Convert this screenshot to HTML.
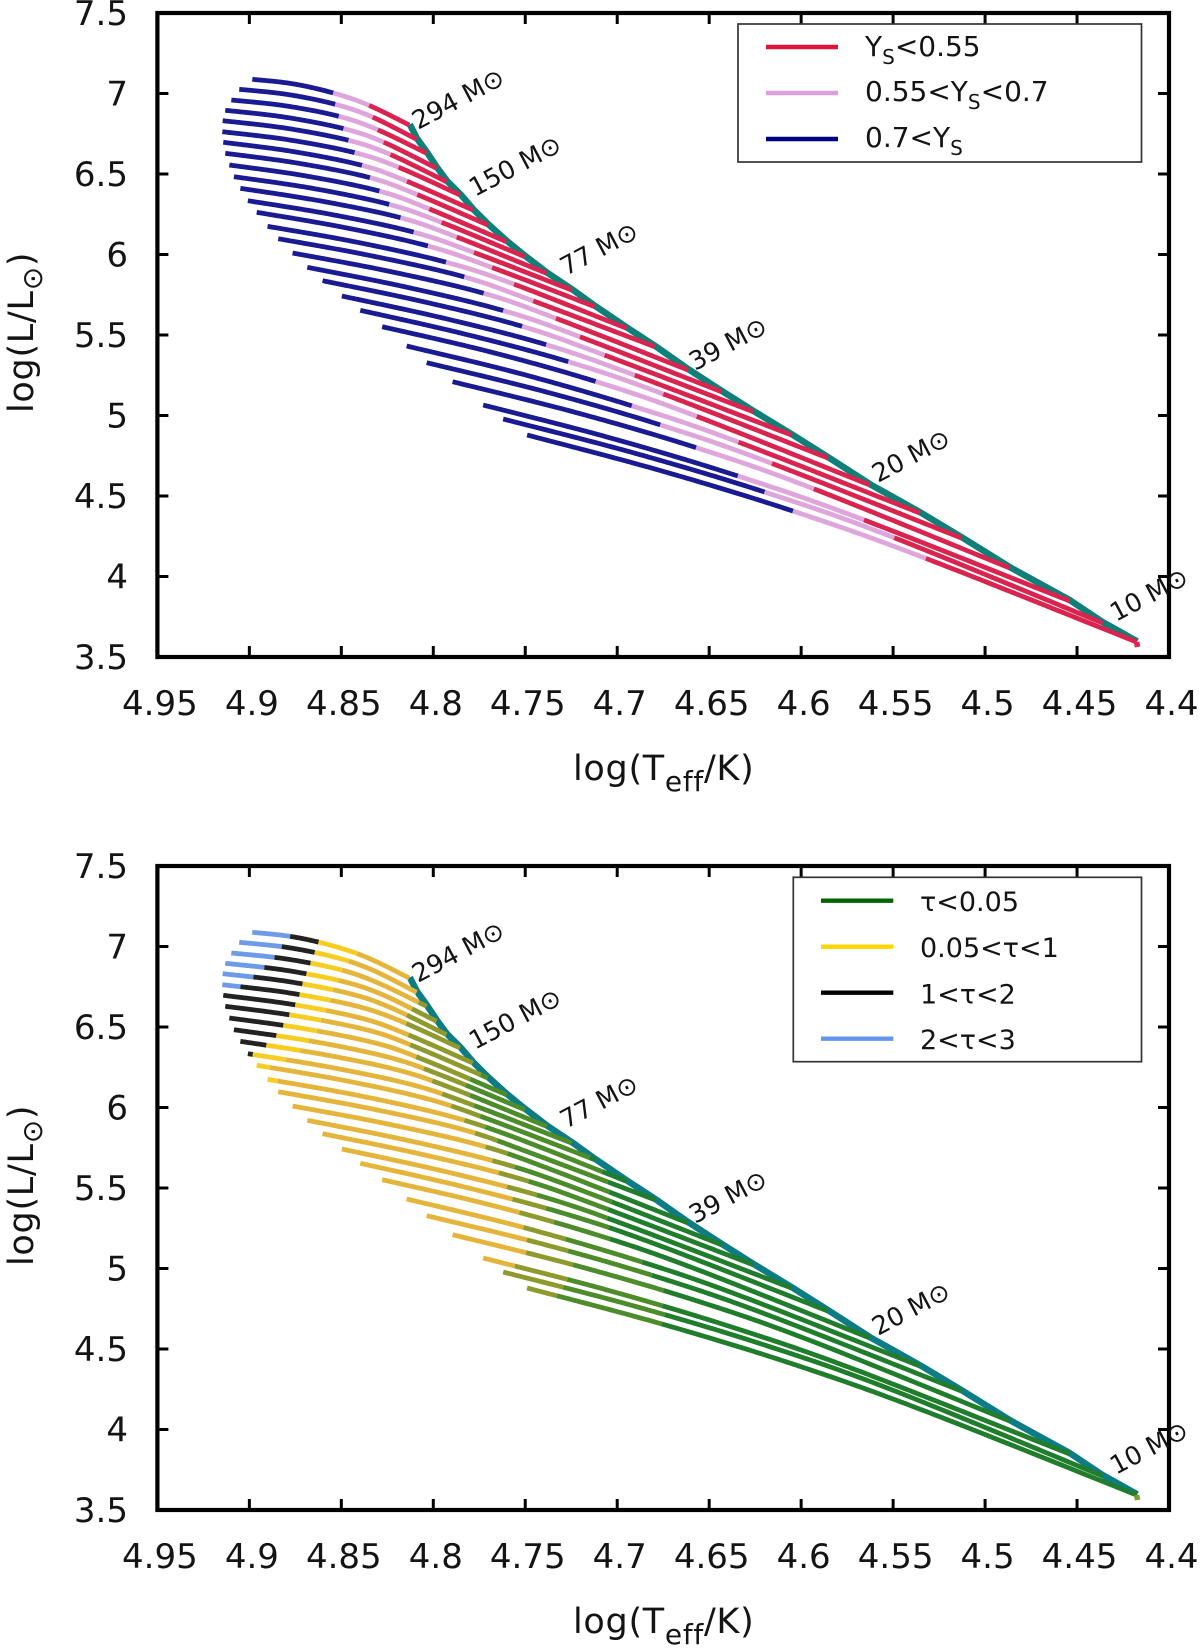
<!DOCTYPE html>
<html lang="en">
<head>
<meta charset="utf-8">
<title>HR diagram with surface helium and optical depth</title>
<style>
html,body{margin:0;padding:0;background:#fff;}
svg{display:block;}
text{font-family:"DejaVu Sans","Liberation Sans",sans-serif;fill:#141414;}
.tick{font-size:34px;}
.title{font-size:35px;letter-spacing:0.7px;}
.leg{font-size:28px;}
.leg2{font-size:27px;}
.ann{font-size:25.5px;}
</style>
</head>
<body>
<svg id="chart" xmlns="http://www.w3.org/2000/svg" width="1200" height="1649" viewBox="0 0 1200 1649">
  <rect width="1200" height="1649" fill="#fff"/>

  <g id="panel-top">
    <g class="marks"></g>
    <g class="axes"></g>
    <text class="title" x="573" y="780">log(T<tspan font-size="28" dy="11">eff</tspan><tspan dy="-11">/K)</tspan></text>
    <text class="title" transform="translate(33,413) rotate(-90)">log(L/L<tspan font-size="28" dy="9">⊙</tspan><tspan dy="-9">)</tspan></text>
    <g>
      <text class="ann" transform="translate(418,130) rotate(-28)">294 M⊙</text>
      <text class="ann" transform="translate(475,197) rotate(-28)">150 M⊙</text>
      <text class="ann" transform="translate(566,276) rotate(-28)">77 M⊙</text>
      <text class="ann" transform="translate(695,371) rotate(-28)">39 M⊙</text>
      <text class="ann" transform="translate(878,483) rotate(-28)">20 M⊙</text>
      <text class="ann" transform="translate(1116,622) rotate(-28)">10 M⊙</text>
    </g>
    <g>
      <rect x="738" y="24" width="403.5" height="138" fill="#fff" stroke="#333" stroke-width="1.7"/>
      <line x1="766" x2="838" y1="47" y2="47" stroke="#dc143c" stroke-width="4.4"/>
      <line x1="766" x2="838" y1="93" y2="93" stroke="#dda0dd" stroke-width="4.4"/>
      <line x1="766" x2="838" y1="139" y2="139" stroke="#000080" stroke-width="4.4"/>
      <text class="leg" x="865" y="56">Y<tspan font-size="20" dy="8">S</tspan><tspan dy="-8">&lt;0.55</tspan></text>
      <text class="leg" x="865" y="101">0.55&lt;Y<tspan font-size="20" dy="8">S</tspan><tspan dy="-8">&lt;0.7</tspan></text>
      <text class="leg" x="865" y="147">0.7&lt;Y<tspan font-size="20" dy="8">S</tspan></text>
    </g>
  </g>

  <g id="panel-bottom" transform="translate(0,853)">
    <g class="marks"></g>
    <g class="axes"></g>
    <text class="title" x="573" y="780">log(T<tspan font-size="28" dy="11">eff</tspan><tspan dy="-11">/K)</tspan></text>
    <text class="title" transform="translate(33,413) rotate(-90)">log(L/L<tspan font-size="28" dy="9">⊙</tspan><tspan dy="-9">)</tspan></text>
    <g>
      <text class="ann" transform="translate(418,130) rotate(-28)">294 M⊙</text>
      <text class="ann" transform="translate(475,197) rotate(-28)">150 M⊙</text>
      <text class="ann" transform="translate(566,276) rotate(-28)">77 M⊙</text>
      <text class="ann" transform="translate(695,371) rotate(-28)">39 M⊙</text>
      <text class="ann" transform="translate(878,483) rotate(-28)">20 M⊙</text>
      <text class="ann" transform="translate(1116,622) rotate(-28)">10 M⊙</text>
    </g>
    <g>
      <rect x="793.3" y="24.3" width="348.2" height="184.4" fill="#fff" stroke="#333" stroke-width="1.7"/>
      <line x1="821" x2="893.3" y1="47.7" y2="47.7" stroke="#006400" stroke-width="4.4"/>
      <line x1="821" x2="893.3" y1="93.7" y2="93.7" stroke="#ffd700" stroke-width="4.4"/>
      <line x1="821" x2="893.3" y1="139.7" y2="139.7" stroke="#000" stroke-width="4.4"/>
      <line x1="821" x2="893.3" y1="185.7" y2="185.7" stroke="#6495ed" stroke-width="4.4"/>
      <text class="leg2" x="920" y="58">τ&lt;0.05</text>
      <text class="leg2" x="920" y="104">0.05&lt;τ&lt;1</text>
      <text class="leg2" x="920" y="150.5">1&lt;τ&lt;2</text>
      <text class="leg2" x="920" y="196">2&lt;τ&lt;3</text>
    </g>
  </g>
</svg>

<script>
// Axis tick values
const xTickValues = [4.95, 4.9, 4.85, 4.8, 4.75, 4.7, 4.65, 4.6, 4.55, 4.5, 4.45, 4.4];
const yTickValues = [3.5, 4, 4.5, 5, 5.5, 6, 6.5, 7, 7.5];

// Evolutionary tracks: [logT, logL], from the hot end to the ZAMS
const trackPoints = [
[[4.8984,7.0882],[4.8767,7.0609],[4.8549,7.0050],[4.8354,6.9286],[4.8131,6.8044]],
[[4.9055,7.0261],[4.8797,6.9948],[4.8539,6.9348],[4.8335,6.8559],[4.8091,6.7155]],
[[4.9098,6.9596],[4.8809,6.9243],[4.8520,6.8603],[4.8308,6.7776],[4.8036,6.6286]],
[[4.9131,6.8957],[4.8813,6.8541],[4.8495,6.7839],[4.8276,6.7006],[4.7982,6.5354]],
[[4.9145,6.8311],[4.8807,6.7855],[4.8468,6.7112],[4.8240,6.6242],[4.7928,6.4522]],
[[4.9147,6.7627],[4.8791,6.7131],[4.8435,6.6348],[4.8196,6.5453],[4.7855,6.3696]],
[[4.9142,6.6969],[4.8769,6.6407],[4.8395,6.5559],[4.8151,6.4584],[4.7785,6.2764]],
[[4.9131,6.6286],[4.8742,6.5684],[4.8352,6.4795],[4.8095,6.3758],[4.7703,6.1832]],
[[4.9109,6.5559],[4.8705,6.4904],[4.8301,6.3963],[4.8031,6.2870],[4.7602,6.0795]],
[[4.9084,6.4832],[4.8666,6.4128],[4.8248,6.3137],[4.7964,6.2037],[4.7502,5.9863]],
[[4.9049,6.4112],[4.8618,6.3336],[4.8187,6.2311],[4.7883,6.1130],[4.7384,5.8832]],
[[4.9008,6.3342],[4.8562,6.2503],[4.8116,6.1416],[4.7790,6.0174],[4.7248,5.7795]],
[[4.8960,6.2621],[4.8500,6.1714],[4.8039,6.0559],[4.7692,5.9242],[4.7122,5.6758]],
[[4.8901,6.1752],[4.8421,6.0777],[4.7941,5.9553],[4.7574,5.8211],[4.6949,5.5416]],
[[4.8843,6.0981],[4.8343,5.9935],[4.7842,5.8640],[4.7470,5.7174],[4.6796,5.4273]],
[[4.8765,6.0093],[4.8251,5.8984],[4.7737,5.7627],[4.7348,5.6099],[4.6615,5.2826]],
[[4.8685,5.9205],[4.8158,5.8003],[4.7631,5.6553],[4.7218,5.4957],[4.6433,5.1478]],
[[4.8602,5.8373],[4.8066,5.7100],[4.7529,5.5578],[4.7085,5.3820],[4.6261,5.0236]],
[[4.8497,5.7422],[4.7948,5.6056],[4.7399,5.4441],[4.6922,5.2578],[4.6053,4.8789]],
[[4.8397,5.6534],[4.7838,5.5084],[4.7279,5.3385],[4.6768,5.1416],[4.5855,4.7360]],
[[4.8278,5.5516],[4.7705,5.3994],[4.7131,5.2162],[4.6587,5.0031],[4.5627,4.5683]],
[[4.8145,5.4317],[4.7540,5.2640],[4.6935,5.0652],[4.6361,4.8435],[4.5355,4.3944]],
[[4.8036,5.3280],[4.7409,5.1531],[4.6781,4.9472],[4.6180,4.7112],[4.5129,4.2391]],
[[4.7895,5.2099],[4.7241,5.0236],[4.6587,4.8062],[4.5953,4.5540],[4.4866,4.0528]],
[[4.7729,5.0652],[4.7045,4.8633],[4.6361,4.6304],[4.5682,4.3615],[4.4540,3.8478]],
[[4.7620,4.9783],[4.6918,4.7702],[4.6216,4.5311],[4.5518,4.2516],[4.4361,3.7112]],
[[4.7490,4.8789],[4.6776,4.6615],[4.6062,4.4130],[4.5346,4.1230],[4.4176,3.5932]]
];

// Surface helium regime changes along each track (logT)
const ysBluePink = [4.8549,4.8539,4.8520,4.8495,4.8468,4.8435,4.8395,4.8352,4.8301,4.8248,4.8187,4.8116,4.8039,4.7941,4.7842,4.7737,4.7631,4.7529,4.7399,4.7279,4.7131,4.6935,4.6781,4.6587,4.6361,4.6216,4.6062];
const ysPinkRed = [4.8354,4.8335,4.8308,4.8276,4.8240,4.8196,4.8151,4.8095,4.8031,4.7964,4.7883,4.7790,4.7692,4.7574,4.7470,4.7348,4.7218,4.7085,4.6922,4.6768,4.6587,4.6361,4.6180,4.5953,4.5682,4.5518,4.5346];

// Optical depth regime changes along each track (logT); 5 and 4 mean "not reached"
const tauBlueBlack = [4.8783,4.8828,4.8870,4.8921,4.8979,4.9051,5,5,5,5,5,5,5,5,5,5,5,5,5,5,5,5,5,5,5,5,5];
const tauBlackGold = [4.8626,4.8647,4.8674,4.8694,4.8714,4.8734,4.8756,4.8783,4.8817,4.8861,4.8915,4.8988,5,5,5,5,5,5,5,5,5,5,5,5,5,5,5];
const tauGoldDull = [4.8417,4.8464,4.8497,4.8519,4.8546,4.8562,4.8584,4.8616,4.8643,4.8681,4.8725,4.8807,4.8888,4.8850,5,5,5,5,5,5,5,5,5,5,5,5,5];
const tauDullOlive = [4.8131,4.8091,4.8084,4.8123,4.8143,4.8154,4.8143,4.8127,4.8095,4.8055,4.8009,4.7955,4.7904,4.7838,4.7774,4.7720,4.7683,4.7647,4.7602,4.7570,4.7539,4.7511,4.7502,4.7502,4.7574,4.8000,4.8000];
const tauOliveGreen = [4,4,4,4,4,4,4,4.7747,4.7801,4.7828,4.7812,4.7785,4.7752,4.7720,4.7656,4.7602,4.7557,4.7493,4.7439,4.7393,4.7348,4.7294,4.7274,4.7252,4.7275,4.7294,4.7339];
const tauGreenDark = [4,4,4,4,4,4,4,4,4,4,4,4,4.7149,4.7095,4.7051,4.7051,4.7051,4.7056,4.7067,4.7056,4.7040,4.6877,4.6823,4.6752,4.6759,4.6759,4.6759];

// Small tip at the cool end of the lowest track
const tipT = [4.4176, 4.4171];
const tipL = [3.5932, 3.5621];

const SVGNS = 'http://www.w3.org/2000/svg';
const plot = {left: 157.4, right: 1169, top: 13, bottom: 657};
const xDomain = [4.95, 4.4];
const yDomain = [3.5, 7.5];
function xScale(t) { return plot.left + (t - xDomain[0]) / (xDomain[1] - xDomain[0]) * (plot.right - plot.left); }
function yScale(l) { return plot.bottom - (l - yDomain[0]) / (yDomain[1] - yDomain[0]) * (plot.bottom - plot.top); }

// Smooth curve through a track's read points, in data coordinates
function sampleTrack(points) {
  const out = [];
  const n = points.length;
  for (let i = 0; i < n - 1; i++) {
    const p0 = points[Math.max(i - 1, 0)], p1 = points[i], p2 = points[i + 1], p3 = points[Math.min(i + 2, n - 1)];
    for (let s = 0; s < 40; s++) {
      const u = s / 40, u2 = u * u, u3 = u2 * u;
      const v = [0, 1].map(function (k) {
        return 0.5 * (2 * p1[k] + (p2[k] - p0[k]) * u + (2 * p0[k] - 5 * p1[k] + 4 * p2[k] - p3[k]) * u2 + (3 * p1[k] - p0[k] - 3 * p2[k] + p3[k]) * u3);
      });
      out.push(v);
    }
  }
  out.push(points[n - 1]);
  return out;
}

function toPath(pts) {
  return pts.map(function (p, i) { return (i ? 'L' : 'M') + xScale(p[0]).toFixed(2) + ' ' + yScale(p[1]).toFixed(2); }).join('');
}

function drawAxes(group) {
  const frame = document.createElementNS(SVGNS, 'rect');
  frame.setAttribute('x', plot.left);
  frame.setAttribute('y', plot.top);
  frame.setAttribute('width', plot.right - plot.left);
  frame.setAttribute('height', plot.bottom - plot.top);
  frame.setAttribute('fill', 'none');
  frame.setAttribute('stroke', '#000');
  frame.setAttribute('stroke-width', '4.2');
  
  
  group.appendChild(frame);

  xTickValues.forEach(function (v, i) {
    const x = xScale(v);
    if (i > 0 && i < xTickValues.length - 1) {
      [[plot.bottom, plot.bottom - 11], [plot.top, plot.top + 11]].forEach(function (pair) {
        const t = document.createElementNS(SVGNS, 'line');
        t.setAttribute('x1', x); t.setAttribute('x2', x);
        t.setAttribute('y1', pair[0]); t.setAttribute('y2', pair[1]);
        t.setAttribute('stroke', '#000'); t.setAttribute('stroke-width', '3');
        
        
        group.appendChild(t);
      });
    }
    const label = document.createElementNS(SVGNS, 'text');
    label.setAttribute('class', 'tick');
    label.setAttribute('x', x + 2.5);
    label.setAttribute('y', plot.bottom + 58);
    label.setAttribute('text-anchor', 'middle');
    
    
    label.textContent = String(v);
    group.appendChild(label);
  });

  yTickValues.forEach(function (v, i) {
    const y = yScale(v);
    if (i > 0 && i < yTickValues.length - 1) {
      [[plot.left, plot.left + 11], [plot.right, plot.right - 11]].forEach(function (pair) {
        const t = document.createElementNS(SVGNS, 'line');
        t.setAttribute('y1', y); t.setAttribute('y2', y);
        t.setAttribute('x1', pair[0]); t.setAttribute('x2', pair[1]);
        t.setAttribute('stroke', '#000'); t.setAttribute('stroke-width', '3');
        
        
        group.appendChild(t);
      });
    }
    const label = document.createElementNS(SVGNS, 'text');
    label.setAttribute('class', 'tick');
    label.setAttribute('x', 128);
    label.setAttribute('y', y + 12);
    label.setAttribute('text-anchor', 'end');
    
    
    label.textContent = String(v);
    group.appendChild(label);
  });
}

function drawMarks(group, zoneColor, zamsColor, tipColor) {
  const zams = document.createElementNS(SVGNS, 'path');
  zams.setAttribute('d', toPath(trackPoints.map(function (t) { return t[4]; })));
  zams.setAttribute('transform', 'translate(0.6,-0.6)');
  zams.setAttribute('fill', 'none');
  zams.setAttribute('stroke', zamsColor);
  zams.setAttribute('stroke-width', '6.5');
  zams.setAttribute('stroke-linejoin', 'round');
  
  
  group.appendChild(zams);

  trackPoints.forEach(function (points, idx) {
    const samples = sampleTrack(points);
    let run = [samples[0]];
    let color = zoneColor(idx, samples[0][0]);
    function flush() {
      const seg = document.createElementNS(SVGNS, 'path');
      seg.setAttribute('d', toPath(run));
      seg.setAttribute('fill', 'none');
      seg.setAttribute('stroke', color);
      seg.setAttribute('stroke-width', '4.8');
      
      
      group.appendChild(seg);
    }
    for (let i = 1; i < samples.length; i++) {
      const c = zoneColor(idx, samples[i][0]);
      run.push(samples[i]);
      if (c !== color) {
        flush();
        run = [samples[i]];
        color = c;
      }
    }
    if (run.length > 1) flush();
  });

  const tip = document.createElementNS(SVGNS, 'path');
  tip.setAttribute('d', toPath(tipT.map(function (t, i) { return [t, tipL[i]]; })));
  tip.setAttribute('fill', 'none');
  tip.setAttribute('stroke', tipColor);
  tip.setAttribute('stroke-width', '5.5');
  
  
  group.appendChild(tip);
}

function heliumZone(i, t) {
  if (t >= ysBluePink[i]) return '#1a1a92';
  if (t >= ysPinkRed[i]) return '#dfa6dc';
  return '#d8244f';
}

function tauZone(i, t) {
  if (t >= tauBlueBlack[i]) return '#6d9bea';
  if (t >= tauBlackGold[i]) return '#222222';
  if (t >= tauGoldDull[i]) return '#f8cd22';
  if (t >= tauDullOlive[i]) return '#e5b53b';
  if (t >= tauOliveGreen[i]) return '#8f9a2e';
  if (t >= tauGreenDark[i]) return '#4d8c2a';
  return '#1f7d2c';
}

const top1 = document.getElementById('panel-top');
drawMarks(top1.querySelector('.marks'), heliumZone, '#0f7f78', '#e0204f');
drawAxes(top1.querySelector('.axes'));
const bottom1 = document.getElementById('panel-bottom');
drawMarks(bottom1.querySelector('.marks'), tauZone, '#0d7c85', '#7f9a2e');
drawAxes(bottom1.querySelector('.axes'));
</script>
</body>
</html>
